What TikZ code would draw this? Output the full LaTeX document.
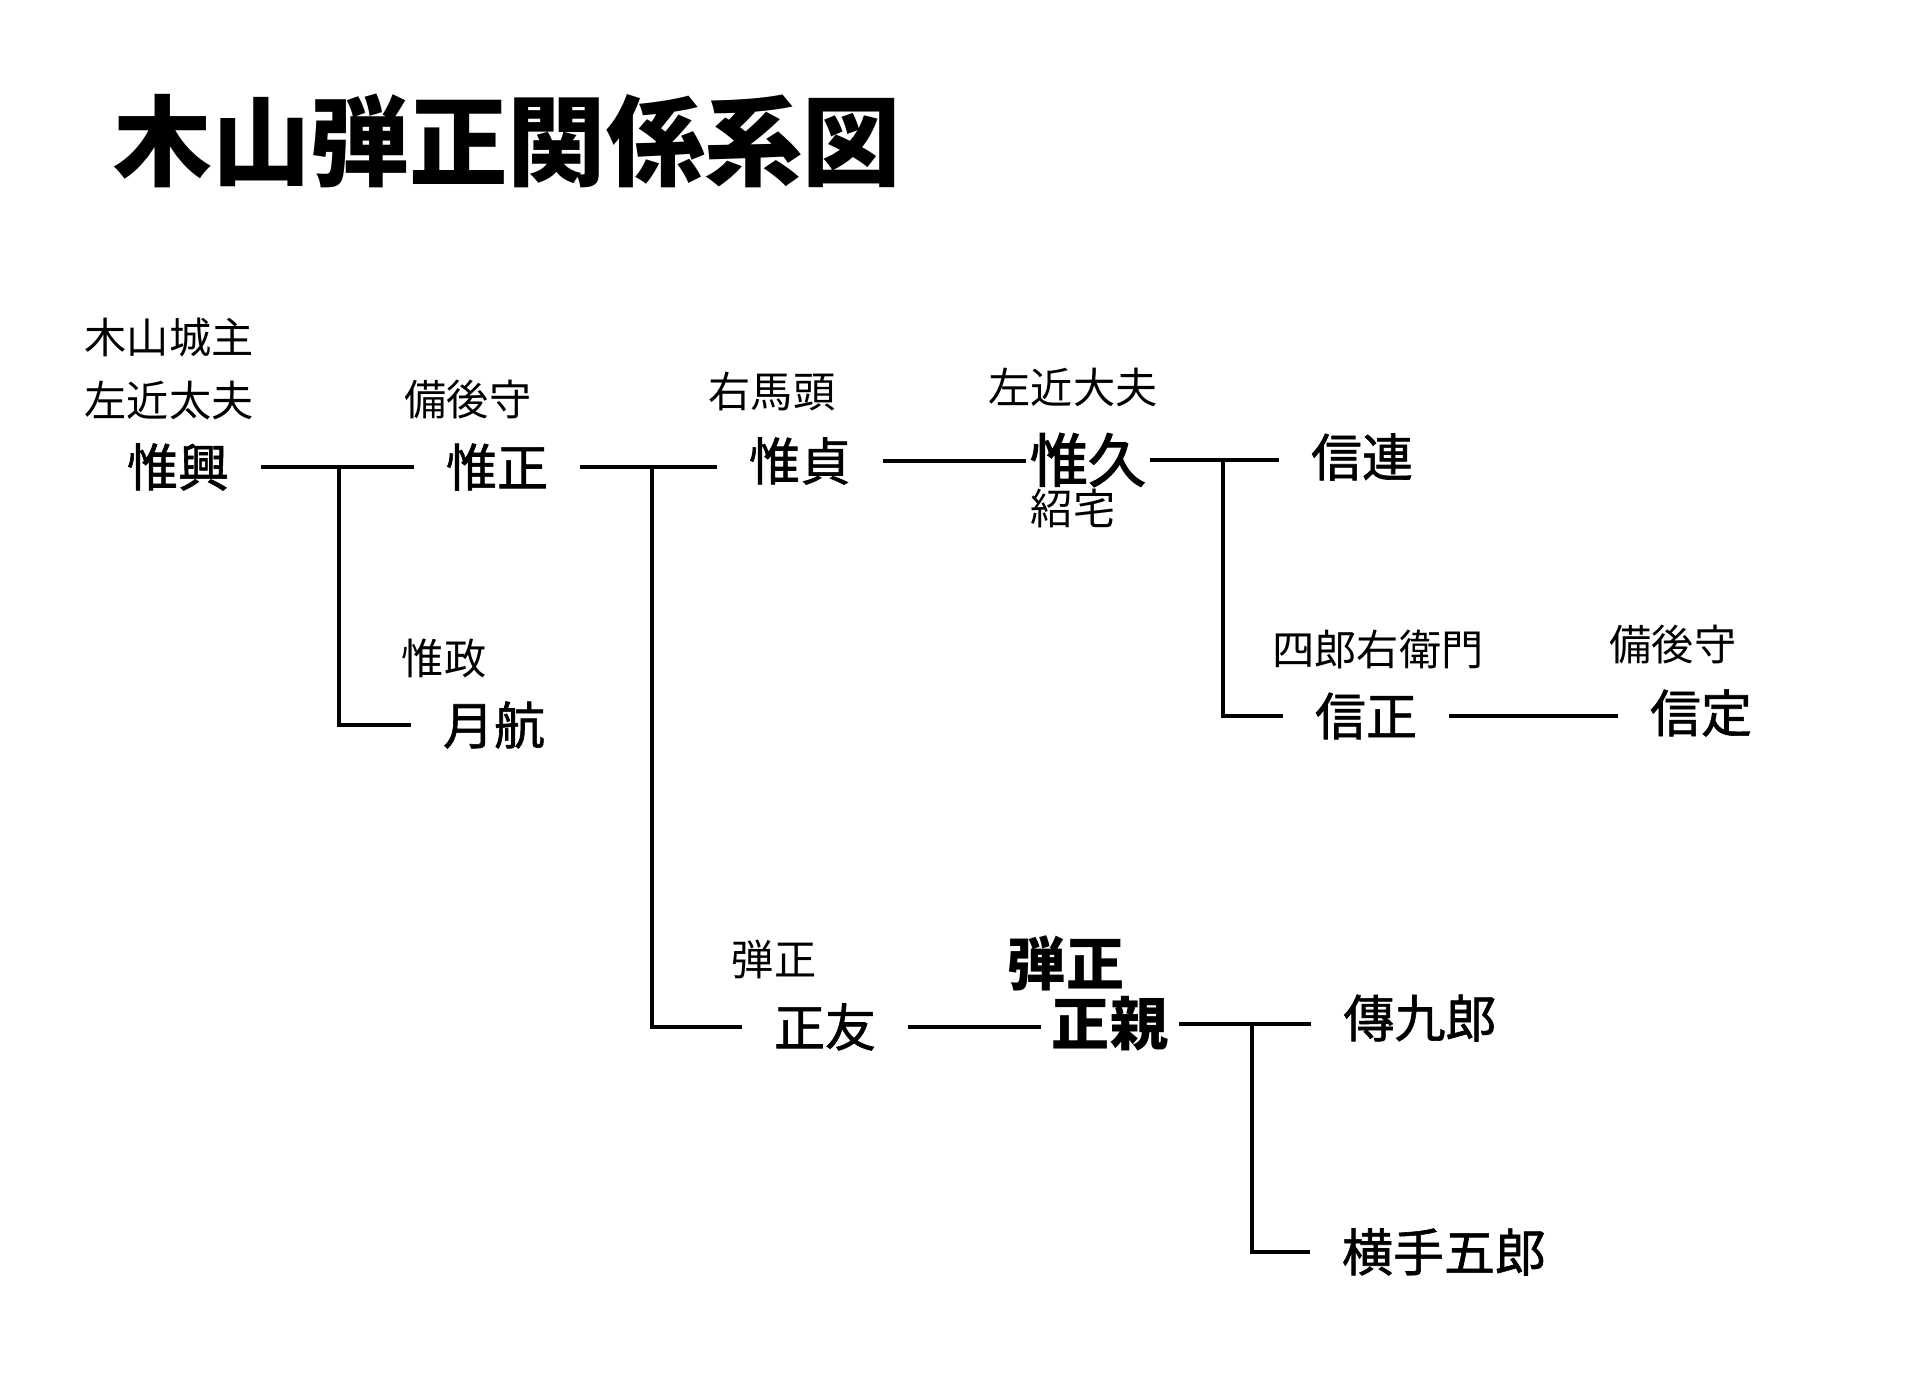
\documentclass[tikz,border=0pt]{standalone}
\usepackage{fontspec}
\setmainfont{Noto Sans CJK JP}
\newfontfamily\namefont{Noto Sans CJK JP}[FakeBold=1.2]
\newfontfamily\headfont{Noto Sans CJK JP}[FakeBold=2.2]
\usetikzlibrary{positioning}

\begin{document}
\begin{tikzpicture}[
    x=0.01cm, y=-0.01cm,
    heading/.style={font=\fontsize{28}{30}\selectfont\bfseries, inner sep=0, anchor=west},
    tag/.style={font=\fontsize{12}{14}\selectfont, inner sep=0},
    person/.style={font=\namefont\fontsize{14.5}{16}\selectfont, inner xsep=9pt, inner ysep=0},
    lord/.style={font=\fontsize{16.5}{18}\selectfont\bfseries, inner xsep=3pt, inner ysep=0},
    link/.style={line width=1.3pt}
]
\useasboundingbox (0,0) rectangle (1918,1378);

\node[heading] (title) at (113,141) {木山弾正関係系図};

% People
\node[person] (koreoki)   at (178,467)  {惟興};
\node[person] (koremasa)  at (497,467)  {惟正};
\node[person] (gekko)     at (494,725)  {月航};
\node[person] (koresada)  at (800,461)  {惟貞};
\node[person, font=\headfont\fontsize{16.5}{18}\selectfont, inner xsep=1pt] (korehisa) at (1088,460) {惟久};
\node[person] (nobutsura) at (1362,457) {信連};
\node[person] (nobumasa)  at (1366,716) {信正};
\node[person] (nobusada)  at (1701,713) {信定};
\node[person] (masatomo)  at (825,1027) {正友};
\node[lord]   (masachika) at (1110,1024) {正親};
\node[person] (denkuro)   at (1420,1018) {傳九郎};
\node[person] (yokote)    at (1444,1252) {横手五郎};

% Titles and other names
\node[tag] (t1)  at (169,337)  {木山城主};
\node[tag] (t2)  at (169,400)  {左近太夫};
\node[tag] (t3)  at (468,400)  {備後守};
\node[tag] (t4)  at (444,658)  {惟政};
\node[tag] (t5)  at (772,391)  {右馬頭};
\node[tag] (t6)  at (1073,387) {左近大夫};
\node[tag] (t7)  at (1073,508) {紹宅};
\node[tag] (t8)  at (1378,649) {四郎右衛門};
\node[tag] (t9)  at (1673,645) {備後守};
\node[tag] (t10) at (774,959)  {弾正};
\node[lord] (t11) at (1066,963) {弾正};

% Branch points
\coordinate (j1) at (339,467);
\coordinate (j2) at (652,467);
\coordinate (j3) at (1223,460);
\coordinate (j4) at (1252,1024);

% Lines of descent
\draw[link] (koreoki.east) -- (koreoki.east -| koremasa.west);
\draw[link] (j1) |- (gekko.west);
\draw[link] (koremasa.east) -- (koremasa.east -| koresada.west);
\draw[link] (j2) |- (masatomo.west);
\draw[link] (koresada.east) -- (koresada.east -| korehisa.west);
\draw[link] (korehisa.east) -- (korehisa.east -| nobutsura.west);
\draw[link] (j3) |- (nobumasa.west);
\draw[link] (nobumasa.east) -- (nobumasa.east -| nobusada.west);
\draw[link] (masatomo.east) -- (masatomo.east -| masachika.west);
\draw[link] (masachika.east) -- (masachika.east -| denkuro.west);
\draw[link] (j4) |- (yokote.west);
\end{tikzpicture}
\end{document}
